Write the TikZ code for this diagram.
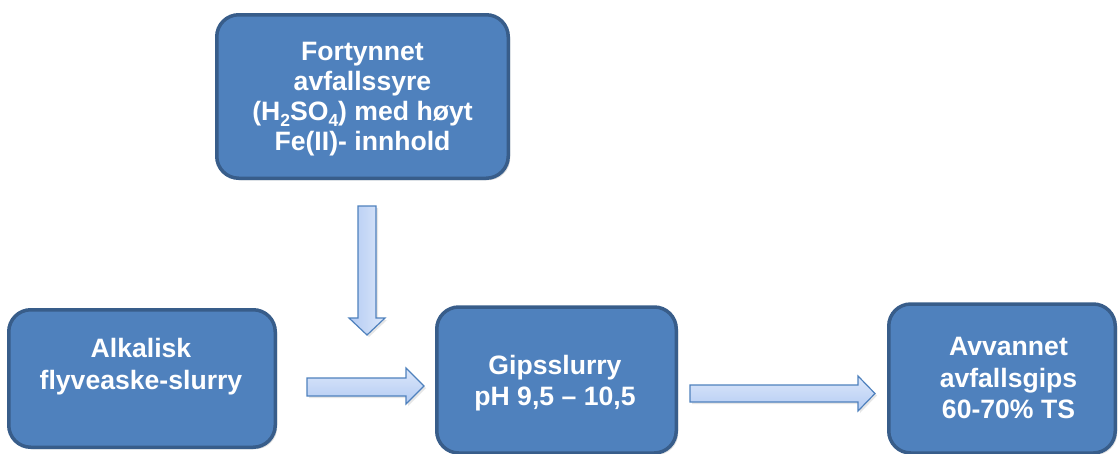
\documentclass[tikz,border=0pt]{standalone}
\usepackage{fontspec}
\setmainfont{Liberation Sans}
\usetikzlibrary{shadows}
\definecolor{boxfill}{HTML}{4F81BD}
\definecolor{boxline}{HTML}{385D8A}
\definecolor{arrline}{HTML}{4F81BD}
\definecolor{arrlight}{HTML}{DCE7FA}
\definecolor{arrdark}{HTML}{B3CBF3}
\tikzset{
  procbox/.style={draw=boxline, fill=boxfill, line width=3.5pt, rounded corners=22pt,
    inner sep=0pt, drop shadow={opacity=0.25, shadow xshift=2pt, shadow yshift=-2pt}},
  boxtext/.style={text=white, font=\bfseries\fontsize{26.6}{31.5}\selectfont, align=center, inner sep=0pt},
  toptext/.style={boxtext, font=\bfseries\fontsize{26.6}{30}\selectfont},
  harrow/.style={draw=arrline, line width=1.2pt, line join=miter, top color=arrlight, bottom color=arrdark,
    drop shadow={opacity=0.2, shadow xshift=2pt, shadow yshift=-2pt}},
  varrow/.style={draw=arrline, line width=1.2pt, line join=miter, left color=arrdark, right color=arrlight,
    drop shadow={opacity=0.2, shadow xshift=2pt, shadow yshift=-2pt}}
}
\newcommand{\sub}[1]{\raisebox{-0.22em}{\fontsize{17.5}{17.5}\selectfont #1}}
\begin{document}
\begin{tikzpicture}[x=1pt, y=-1pt]
\useasboundingbox (0,0) rectangle (1119,453);
% boxes
\node[procbox, minimum width=266.5pt, minimum height=137.5pt] (alk) at (142,378.5) {};
\node[procbox, minimum width=291.5pt, minimum height=163.5pt] (syre) at (362.5,96.5) {};
\node[procbox, minimum width=239.5pt, minimum height=146pt] (gips) at (556.5,380) {};
\node[procbox, minimum width=226.5pt, minimum height=149pt] (avv) at (1002,378.5) {};
% texts
\node[toptext] (syret) at (362.5,99) {Fortynnet\\avfallssyre\\(H\sub{2}SO\sub{4}) med høyt\\Fe(II)- innhold};
\node[boxtext] (alkt) at (141,366.8) {Alkalisk\\flyveaske-slurry};
\node[boxtext] (gipst) at (555,383) {Gipsslurry\\pH 9,5 – 10,5};
\node[boxtext] (avvt) at (1008.5,378) {Avvannet\\avfallsgips\\60-70\% TS};
% block arrows
\path[varrow] (358,206) -- (376,206) -- (376,318) -- (385,318) -- (367,335) -- (349,318) -- (358,318) -- cycle;
\path[harrow] (307,378) -- (406,378) -- (406,368) -- (424,386) -- (406,404) -- (406,396) -- (307,396) -- cycle;
\path[harrow] (690,385) -- (858,385) -- (858,376) -- (875,393.5) -- (858,411) -- (858,402) -- (690,402) -- cycle;
\end{tikzpicture}
\end{document}
